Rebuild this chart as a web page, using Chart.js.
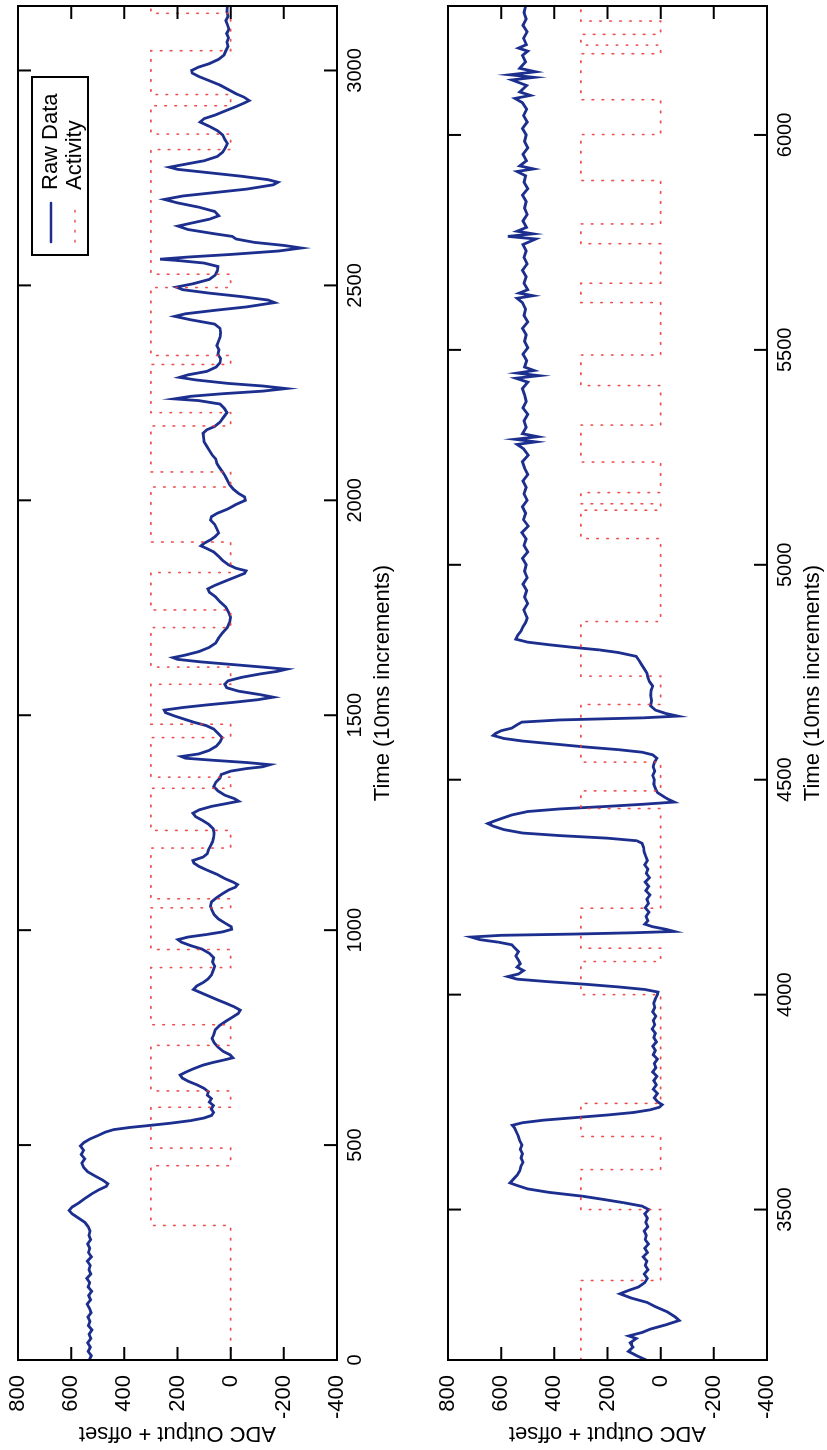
<!DOCTYPE html>
<html>
<head>
<meta charset="utf-8">
<script src="https://cdn.jsdelivr.net/npm/chart.js@4.4.1/dist/chart.umd.min.js"></script>
<style>
  html, body { margin: 0; padding: 0; background: #fff; overflow: hidden; }
  /* the figure is drawn landscape and turned a quarter left, like the scanned page */
  #fig { position: absolute; left: 0; top: 0; width: 1450px; height: 827px;
         transform-origin: 0 0; transform: translate(0, 1450px) rotate(-90deg); }
  #fig canvas { position: absolute; left: 0; }
</style>
</head>
<body>
<div id="fig">
  <canvas id="c1" width="1450" height="420" style="top:0"></canvas>
  <canvas id="c2" width="1450" height="407" style="top:420px"></canvas>
</div>
<script>
var FONT = "'Liberation Sans', Arial, Helvetica, sans-serif";
Chart.defaults.font.family = FONT;
Chart.defaults.color = '#000';

// [time (10ms), ADC output + offset]
var raw1 = [
  [0,532],[10,524],[20,536],[30,528],[40,538],[50,526],[60,533],[70,522],[80,535],[90,529],
  [100,537],[110,525],[120,531],[130,540],[140,527],[150,534],[160,523],[170,536],[180,530],[190,541],
  [200,526],[210,533],[220,528],[230,539],[240,524],[250,535],[260,530],[270,538],[280,527],[290,533],
  [300,529],[310,536],[320,548],[330,572],[340,596],[348,608],[356,596],[366,570],[376,548],[386,524],
  [396,496],[404,468],[410,462],[418,480],[428,510],[438,538],[448,553],[458,560],[468,549],[478,562],
  [488,553],[498,565],[506,552],[514,530],[522,500],[530,472],[536,440],[541,380],[546,300],[551,225],
  [557,150],[563,100],[569,72],[576,64],[584,73],[592,65],[600,80],[608,72],[616,88],[624,84],
  [632,100],[640,126],[648,158],[656,182],[663,190],[670,168],[678,138],[686,104],[692,68],[698,25],
  [703,-8],[710,2],[718,28],[728,48],[738,62],[748,70],[758,63],[768,58],[778,42],[788,18],
  [798,-8],[806,-28],[814,-36],[822,-12],[830,18],[838,50],[846,80],[854,110],[862,140],[870,128],
  [878,104],[886,86],[896,72],[906,66],[916,60],[926,68],[936,64],[946,80],[956,108],[964,150],
  [972,185],[978,198],[984,160],[990,90],[996,30],[1002,-4],[1008,-2],[1016,20],[1026,46],[1036,62],
  [1046,70],[1056,76],[1066,72],[1076,52],[1086,28],[1094,6],[1100,-18],[1106,-26],[1112,-8],[1120,22],
  [1130,52],[1140,90],[1148,118],[1156,138],[1162,142],[1170,104],[1178,88],[1186,84],[1196,76],[1206,68],
  [1216,64],[1226,62],[1236,66],[1246,82],[1256,108],[1264,132],[1272,142],[1280,118],[1288,72],[1294,20],
  [1300,-30],[1306,-14],[1314,22],[1324,48],[1334,64],[1344,56],[1354,40],[1362,36],[1370,0],[1376,-60],
  [1380,-120],[1385,-148],[1390,-60],[1395,60],[1400,170],[1404,186],[1410,120],[1418,82],[1428,54],[1438,40],
  [1448,32],[1458,48],[1468,64],[1476,92],[1484,140],[1490,170],[1498,210],[1506,245],[1512,250],[1518,180],
  [1524,90],[1530,-10],[1536,-100],[1542,-160],[1548,-110],[1556,-30],[1564,15],[1572,22],[1580,10],[1588,-40],
  [1596,-110],[1602,-175],[1607,-210],[1612,-120],[1618,-6],[1624,110],[1630,200],[1634,217],[1640,170],[1648,120],
  [1658,80],[1668,56],[1680,45],[1692,30],[1704,13],[1716,4],[1728,0],[1740,8],[1752,19],[1764,40],
  [1776,58],[1786,80],[1794,86],[1802,60],[1812,20],[1822,-20],[1830,-52],[1836,-58],[1842,-20],[1850,8],
  [1860,30],[1870,46],[1880,64],[1888,90],[1894,112],[1900,100],[1908,76],[1916,58],[1924,45],[1934,52],
  [1944,60],[1954,76],[1962,72],[1970,50],[1980,10],[1990,-19],[2000,-55],[2008,-52],[2016,-30],[2026,-10],
  [2036,4],[2046,12],[2056,20],[2066,30],[2076,42],[2086,52],[2096,56],[2106,70],[2116,80],[2126,90],
  [2136,100],[2146,102],[2156,104],[2164,90],[2172,60],[2182,40],[2194,26],[2204,14],[2214,24],[2224,40],
  [2232,120],[2236,212],[2242,150],[2248,30],[2254,-120],[2260,-208],[2266,-120],[2272,10],[2280,130],[2286,192],
  [2292,160],[2300,90],[2310,55],[2320,40],[2330,38],[2340,48],[2350,44],[2360,52],[2370,46],[2380,40],
  [2390,38],[2400,40],[2410,60],[2420,150],[2428,210],[2434,170],[2442,60],[2450,-60],[2460,-165],[2466,-140],
  [2474,-40],[2482,80],[2490,180],[2496,205],[2504,140],[2514,80],[2524,58],[2534,50],[2544,48],[2552,100],
  [2558,200],[2561,265],[2566,160],[2572,0],[2580,-180],[2587,-265],[2593,-200],[2600,-90],[2608,-20],[2614,-6],
  [2620,60],[2630,160],[2638,198],[2646,140],[2654,80],[2662,45],[2672,60],[2682,120],[2692,200],[2700,249],
  [2708,180],[2716,60],[2724,-60],[2734,-160],[2740,-178],[2746,-140],[2754,-40],[2762,80],[2770,200],[2775,230],
  [2782,170],[2790,100],[2800,50],[2810,30],[2820,20],[2830,12],[2840,22],[2850,30],[2860,50],[2870,80],
  [2880,115],[2888,100],[2896,60],[2906,20],[2916,-20],[2924,-50],[2930,-70],[2938,-50],[2946,-20],[2956,10],
  [2966,40],[2976,80],[2986,120],[2994,145],[3000,147],[3008,120],[3016,80],[3026,45],[3036,25],[3046,18],
  [3056,10],[3066,14],[3076,8],[3086,15],[3096,6],[3106,12],[3116,18],[3126,10],[3136,14],[3150,12]
];

var raw2 = [
  [3150,55],[3160,90],[3170,121],[3180,104],[3190,115],[3200,92],[3206,120],[3214,70],[3222,38],[3232,-20],
  [3242,-70],[3250,-55],[3262,-25],[3274,20],[3284,51],[3294,110],[3304,153],[3312,120],[3320,83],[3330,60],
  [3340,50],[3350,62],[3360,48],[3370,58],[3380,52],[3390,66],[3400,50],[3410,60],[3420,46],[3430,58],
  [3440,54],[3450,62],[3460,48],[3470,56],[3480,50],[3490,60],[3500,45],[3508,70],[3516,140],[3524,220],
  [3531,293],[3540,420],[3548,500],[3556,540],[3562,567],[3570,555],[3580,540],[3590,530],[3600,526],[3610,518],
  [3620,525],[3630,520],[3640,528],[3650,522],[3660,530],[3670,535],[3680,542],[3690,550],[3696,558],[3702,520],
  [3708,440],[3714,320],[3720,200],[3726,100],[3732,40],[3738,5],[3744,-6],[3750,10],[3760,24],[3770,12],
  [3780,28],[3790,16],[3800,26],[3810,14],[3820,30],[3830,18],[3840,24],[3850,12],[3860,28],[3870,20],
  [3880,30],[3890,16],[3900,26],[3910,20],[3920,32],[3930,22],[3940,28],[3950,18],[3960,30],[3970,22],
  [3980,26],[3990,20],[4000,12],[4006,10],[4012,60],[4018,160],[4024,280],[4030,420],[4036,540],[4042,575],
  [4048,535],[4056,516],[4064,540],[4072,528],[4080,535],[4090,545],[4100,535],[4108,548],[4116,560],[4122,610],
  [4128,680],[4134,713],[4138,600],[4141,318],[4144,100],[4147,-51],[4152,-20],[4158,30],[4164,60],[4172,48],
  [4182,55],[4192,44],[4202,58],[4212,46],[4222,52],[4232,40],[4242,56],[4252,45],[4262,58],[4272,42],
  [4282,54],[4292,48],[4302,60],[4312,50],[4322,56],[4332,62],[4342,64],[4352,70],[4358,90],[4364,200],
  [4370,380],[4376,520],[4384,590],[4392,630],[4398,650],[4404,625],[4410,598],[4418,560],[4426,500],[4432,380],
  [4438,200],[4443,64],[4448,-51],[4454,-30],[4460,-13],[4470,12],[4480,20],[4490,26],[4500,24],[4510,30],
  [4520,22],[4530,28],[4540,24],[4550,14],[4558,30],[4564,70],[4570,160],[4576,280],[4583,400],[4590,520],
  [4596,590],[4603,630],[4608,620],[4614,600],[4620,560],[4628,540],[4634,522],[4639,382],[4644,64],[4648,-64],
  [4654,-20],[4662,20],[4672,38],[4684,34],[4696,38],[4708,36],[4718,30],[4728,42],[4738,48],[4748,52],
  [4758,62],[4768,72],[4778,82],[4787,92],[4796,160],[4802,231],[4808,330],[4814,420],[4820,500],[4827,545],
  [4836,538],[4846,525],[4856,518],[4866,508],[4876,502],[4880,505],[4895,515],[4910,500],[4925,512],[4940,504],
  [4955,518],[4970,502],[4985,512],[5000,506],[5015,520],[5030,500],[5045,514],[5060,506],[5075,522],[5090,498],
  [5105,516],[5120,508],[5135,520],[5150,502],[5165,514],[5180,506],[5195,518],[5210,500],[5225,512],[5240,520],
  [5255,498],[5270,516],[5280,540],[5286,470],[5292,548],[5298,462],[5305,520],[5320,506],[5335,514],[5350,500],
  [5365,518],[5380,506],[5395,512],[5410,520],[5425,500],[5434,545],[5440,458],[5446,540],[5452,476],[5460,512],
  [5475,504],[5490,518],[5505,500],[5520,512],[5535,506],[5550,520],[5565,500],[5580,514],[5595,508],[5610,520],
  [5620,540],[5626,480],[5632,532],[5640,500],[5655,514],[5670,506],[5685,520],[5700,502],[5715,514],[5730,506],
  [5745,518],[5758,470],[5764,575],[5770,480],[5776,540],[5785,505],[5800,518],[5815,502],[5830,512],[5845,506],
  [5860,520],[5875,500],[5890,514],[5905,508],[5915,540],[5921,478],[5928,530],[5940,505],[5955,518],[5970,500],
  [5985,512],[6000,506],[6015,520],[6030,502],[6045,516],[6060,504],[6075,520],[6085,548],[6092,490],[6100,530],
  [6115,504],[6128,560],[6134,476],[6140,568],[6147,470],[6155,530],[6170,508],[6185,520],[6195,500],[6202,535],
  [6210,505],[6225,516],[6240,502],[6255,518],[6270,506],[6285,514],[6300,508]
];

// activity: switch times and the level held from each switch on
var act1Times = [0,313,452,493,588,626,732,780,913,955,1052,1073,1191,1232,1330,1356,1448,1479,1572,1612,
                 1704,1745,1832,1903,2031,2066,2173,2204,2316,2337,2495,2526,2816,2852,2918,2944,3046,3133,3150];
var act1Levels = [0,300,0,300,0,300,0,300,0,300,0,300,0,300,0,300,0,300,0,300,
                  0,300,0,300,0,300,0,300,0,300,0,300,0,300,0,300,0,300,300];
var act2Times = [3150,3335,3500,3593,3670,3747,4000,4077,4108,4201,4433,4474,4541,4675,4741,4868,5061,5127,5142,5168,
                 5239,5325,5417,5488,5610,5655,5747,5793,5894,6001,6082,6189,6209,6234,6265,6300];
var act2Levels = [300,0,300,0,300,0,300,0,300,0,300,0,300,0,300,0,300,0,300,0,
                  300,0,300,0,300,0,300,0,300,0,300,0,300,0,300,300];

var seriesLabels = ['Raw Data', 'Activity'];
var adcTicks = [-400, -200, 0, 200, 400, 600, 800];
var timeTicks1 = [0, 500, 1000, 1500, 2000, 2500, 3000];
var timeTicks2 = [3500, 4000, 4500, 5000, 5500, 6000];

var BLUE = '#1c2f8e';
var RED = 'rgba(236,60,60,0.9)';

function toPoints(list) {
  return list.map(function(p) { return {x: p[0], y: p[1]}; });
}
function toSteps(times, levels) {
  return times.map(function(t, i) { return {x: t, y: levels[i]}; });
}

// MATLAB style box with inward ticks on all four sides
var frameTicks = {
  id: 'frameTicks',
  afterDraw: function(chart) {
    var ctx = chart.ctx, a = chart.chartArea, x = chart.scales.x, y = chart.scales.y;
    var tl = 13;
    ctx.save();
    ctx.strokeStyle = '#000';
    ctx.lineWidth = 2;
    ctx.strokeRect(a.left, a.top, a.right - a.left, a.bottom - a.top);
    ctx.beginPath();
    x.ticks.forEach(function(t) {
      var px = x.getPixelForValue(t.value);
      ctx.moveTo(px, a.bottom); ctx.lineTo(px, a.bottom - tl);
      ctx.moveTo(px, a.top); ctx.lineTo(px, a.top + tl);
    });
    y.ticks.forEach(function(t) {
      var py = y.getPixelForValue(t.value);
      ctx.moveTo(a.left, py); ctx.lineTo(a.left + tl, py);
      ctx.moveTo(a.right, py); ctx.lineTo(a.right - tl, py);
    });
    ctx.stroke();
    ctx.restore();
  }
};

// boxed legend inside the upper plot
var legendBox = {
  id: 'legendBox',
  afterDraw: function(chart) {
    var ctx = chart.ctx, a = chart.chartArea;
    var w = 178, h = 56;
    var bx = a.right - 71 - w, by = a.top + 14;
    ctx.save();
    ctx.fillStyle = '#fff';
    ctx.fillRect(bx, by, w, h);
    ctx.strokeStyle = '#000';
    ctx.lineWidth = 2;
    ctx.strokeRect(bx, by, w, h);
    var rows = [
      {label: seriesLabels[0], color: BLUE, dash: [], width: 2.6, y: by + 19},
      {label: seriesLabels[1], color: RED, dash: [1.6, 8.4], width: 1.6, y: by + 43}
    ];
    rows.forEach(function(r) {
      ctx.beginPath();
      ctx.strokeStyle = r.color;
      ctx.lineWidth = r.width;
      ctx.setLineDash(r.dash);
      ctx.lineCap = 'round';
      ctx.moveTo(bx + 13, r.y);
      ctx.lineTo(bx + 52, r.y);
      ctx.stroke();
      ctx.setLineDash([]);
      ctx.fillStyle = '#000';
      ctx.font = '22px ' + FONT;
      ctx.textBaseline = 'middle';
      ctx.fillText(r.label, bx + 65, r.y);
    });
    ctx.restore();
  }
};

function makeChart(id, raw, actTimes, actLevels, tMin, tMax, timeTicks, padTop, xAxisH, titlePad, withLegend) {
  return new Chart(document.getElementById(id), {
    type: 'line',
    data: {
      datasets: [
        {
          label: seriesLabels[1],
          data: toSteps(actTimes, actLevels),
          stepped: 'before',
          borderColor: RED,
          borderWidth: 1.6,
          borderDash: [1.6, 8.4],
          borderCapStyle: 'round',
          pointRadius: 0,
          fill: false
        },
        {
          label: seriesLabels[0],
          data: toPoints(raw),
          borderColor: BLUE,
          borderWidth: 2.8,
          pointRadius: 0,
          tension: 0,
          fill: false
        }
      ]
    },
    options: {
      responsive: false,
      animation: false,
      events: [],
      layout: { padding: { top: padTop, right: 6, bottom: 0, left: 0 } },
      plugins: { legend: { display: false }, tooltip: { enabled: false } },
      scales: {
        x: {
          type: 'linear',
          position: 'bottom',
          min: tMin,
          max: tMax,
          afterBuildTicks: function(s) { s.ticks = timeTicks.map(function(v) { return {value: v}; }); },
          afterFit: function(s) {
            s.height = xAxisH;
            s.paddingLeft = 0; s.paddingRight = 0; s.paddingTop = 0; s.paddingBottom = 0;
          },
          grid: { display: false, drawTicks: false },
          border: { display: false },
          ticks: { font: { size: 20 }, padding: 6, maxRotation: 0, autoSkip: false, color: '#000',
                   callback: function(v) { return String(v); } },
          title: { display: true, text: 'Time (10ms increments)', color: '#000',
                   font: { size: 22 }, padding: { top: 4, bottom: titlePad } }
        },
        y: {
          type: 'linear',
          min: -400,
          max: 800,
          afterBuildTicks: function(s) { s.ticks = adcTicks.map(function(v) { return {value: v}; }); },
          afterFit: function(s) {
            s.width = 90;
            s.paddingLeft = 0; s.paddingRight = 0; s.paddingTop = 0; s.paddingBottom = 0;
          },
          grid: { display: false, drawTicks: false },
          border: { display: false },
          ticks: { font: { size: 22 }, padding: 15, color: '#000',
                   callback: function(v) { return String(v); } },
          title: { display: true, text: 'ADC Output + offset', color: '#000',
                   font: { size: 22 }, padding: { top: 4, bottom: 4 } }
        }
      }
    },
    plugins: withLegend ? [frameTicks, legendBox] : [frameTicks]
  });
}

makeChart('c1', raw1, act1Times, act1Levels, 0, 3150, timeTicks1, 18, 83, 24, true);
makeChart('c2', raw2, act2Times, act2Levels, 3150, 6300, timeTicks2, 28, 60, 1, false);
</script>
</body>
</html>
